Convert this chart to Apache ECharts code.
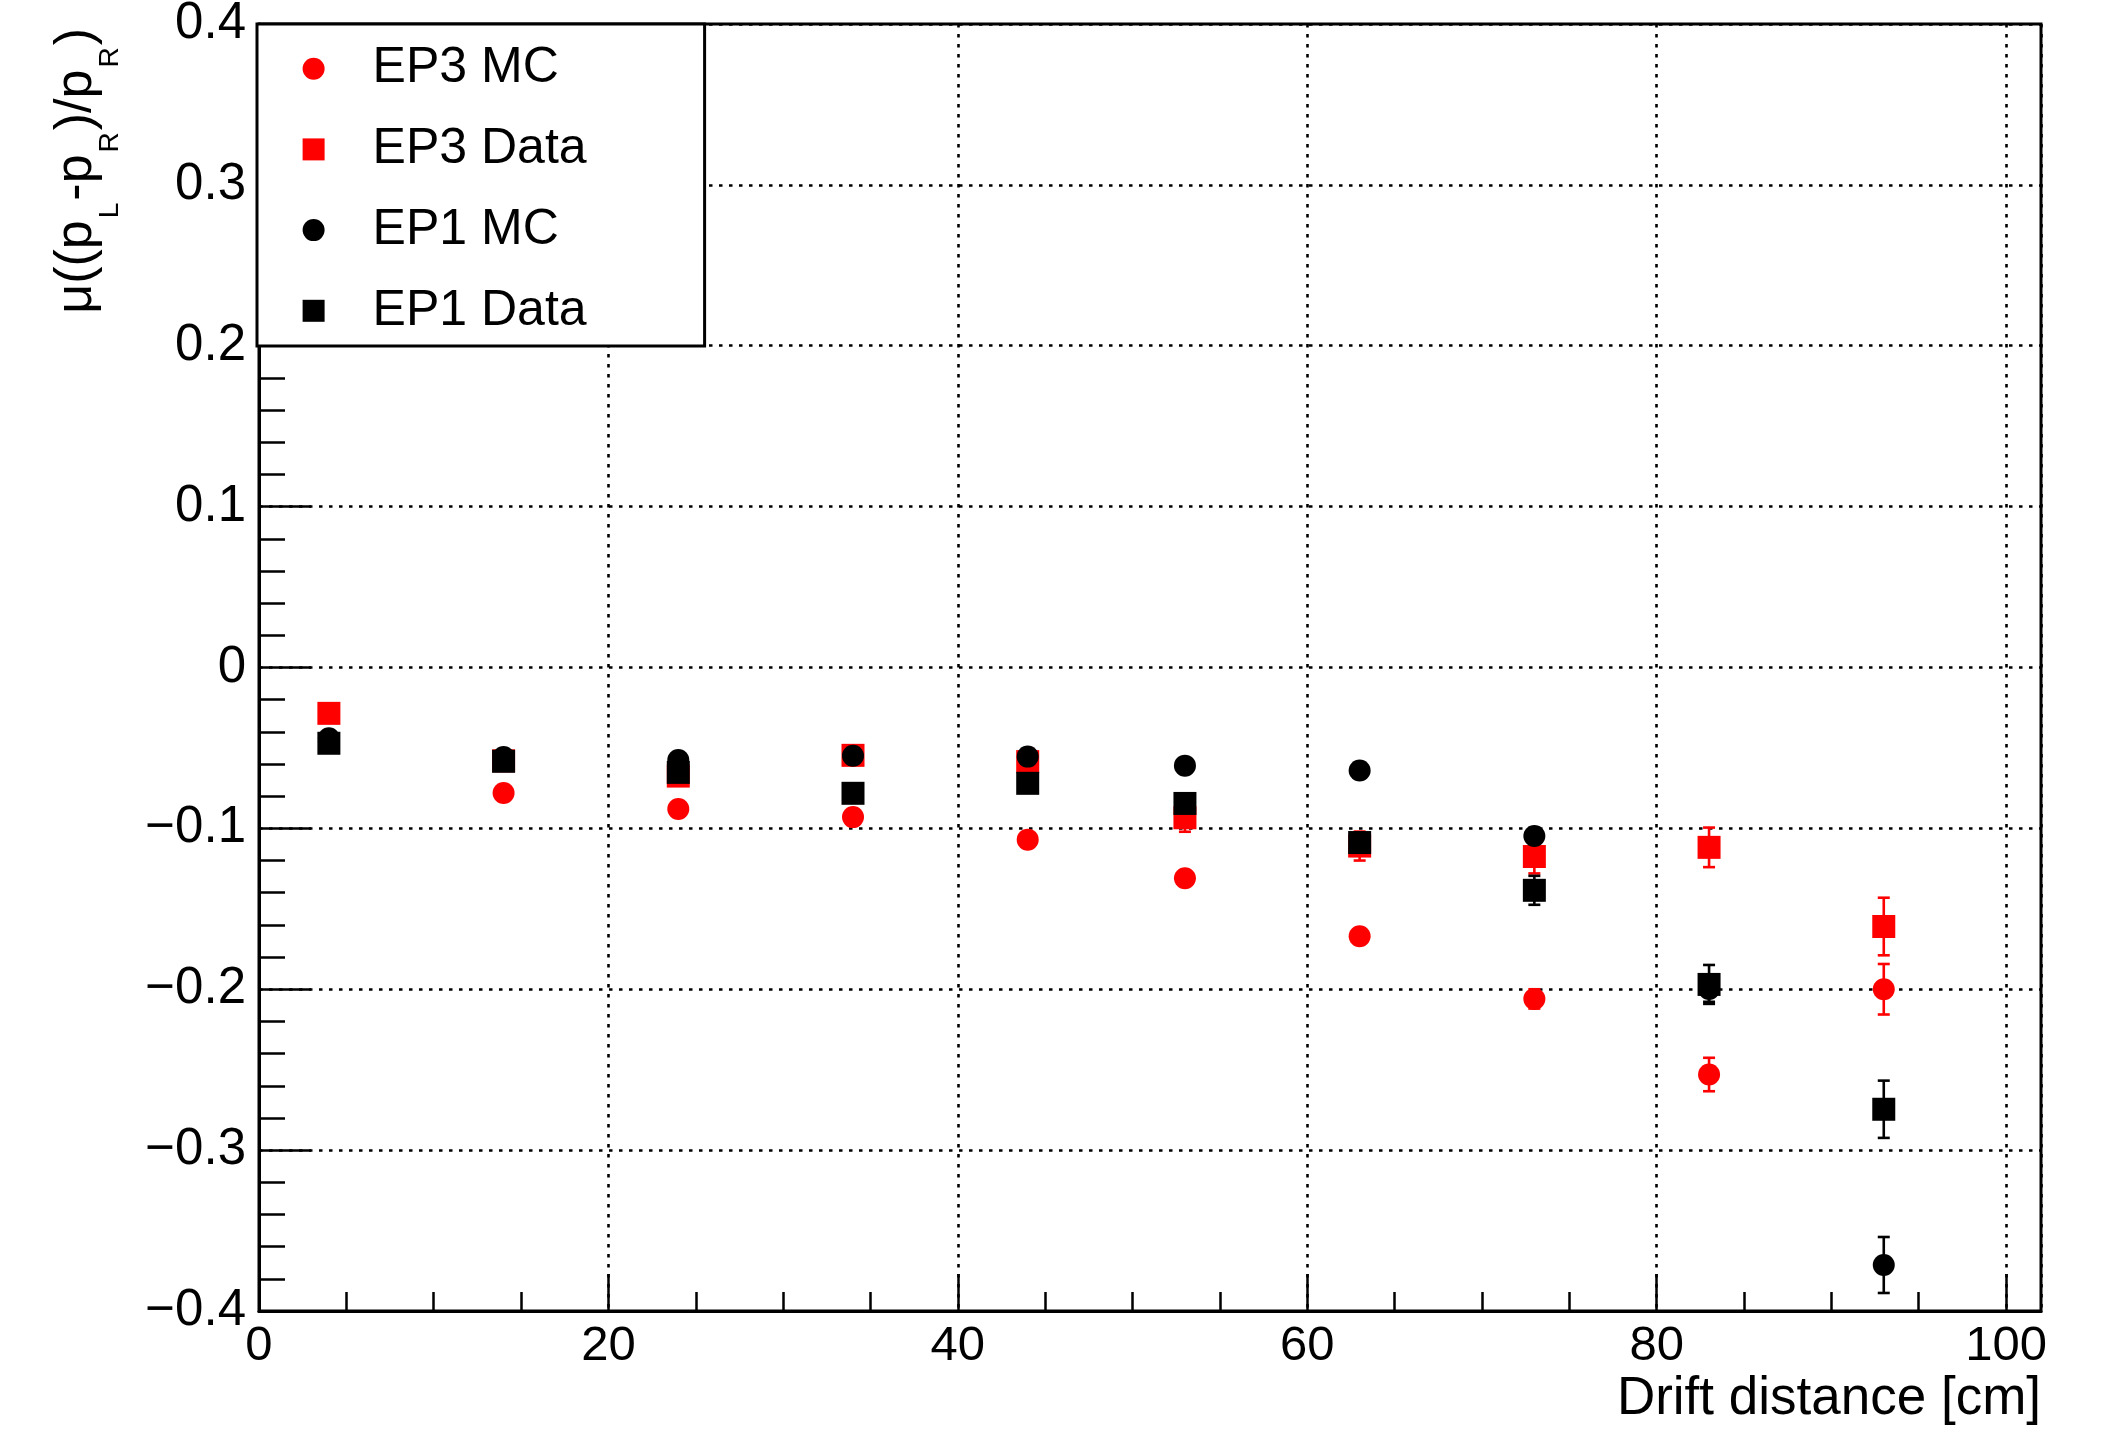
<!DOCTYPE html>
<html>
<head>
<meta charset="utf-8">
<script src="https://cdn.jsdelivr.net/npm/echarts@6/dist/echarts.min.js"></script>
<style>
html,body{margin:0;padding:0;background:#ffffff;}
#chart{width:2102px;height:1441px;}
</style>
</head>
<body>
<div id="chart"></div>
<script>
// ---------------- data ----------------
const driftDistance = [4, 14, 24, 34, 44, 53, 63, 73, 83, 93];

const ep3MC     = [-0.046, -0.078, -0.088, -0.093, -0.107, -0.131, -0.167, -0.206, -0.253, -0.200];
const ep3MCErr  = [0.002, 0.002, 0.002, 0.002, 0.003, 0.003, 0.004, 0.006, 0.0104, 0.0157];

const ep3Data    = [-0.0285, -0.058, -0.0675, -0.0546, -0.0585, -0.0934, -0.111, -0.1175, -0.1118, -0.161];
const ep3DataErr = [0.004, 0.004, 0.005, 0.005, 0.006, 0.0087, 0.009, 0.0105, 0.0123, 0.0179];

const ep1MC     = [-0.044, -0.0556, -0.0575, -0.0548, -0.0554, -0.061, -0.064, -0.1047, -0.1998, -0.3714];
const ep1MCErr  = [0.002, 0.002, 0.002, 0.002, 0.003, 0.003, 0.004, 0.005, 0.008, 0.0174];

const ep1Data    = [-0.0471, -0.0583, -0.0652, -0.0782, -0.072, -0.0845, -0.1088, -0.1385, -0.197, -0.2746];
const ep1DataErr = [0.003, 0.003, 0.004, 0.004, 0.005, 0.006, 0.006, 0.009, 0.0121, 0.0178];

const seriesNames = ['EP3 MC', 'EP3 Data', 'EP1 MC', 'EP1 Data'];
const xAxisTitle = 'Drift distance [cm]';

// axis ranges
const X_MIN = 0, X_MAX = 102, X_TICK_END = 100, X_STEP = 20;
const Y_MIN = -0.4, Y_MAX = 0.4, Y_STEP = 0.1;

// ---------------- layout / style ----------------
const FONT = '"Liberation Sans", Arial, Helvetica, sans-serif';
const W = 2102, H = 1441;
const PL = 259, PR = 2041, PT = 24, PB = 1311;
const RED = '#ff0000', BLACK = '#000000';
const SQUARE = 'path://M0 0H1V1H0Z';

function points(ys, es) {
  return driftDistance.map((x, i) => [x, ys[i], es[i]]);
}

function errorBars(color) {
  return function (params, api) {
    const x = api.value(0), y = api.value(1), e = api.value(2);
    const lo = api.coord([x, y - e]);
    const hi = api.coord([x, y + e]);
    const cap = 6;
    const st = { stroke: color, lineWidth: 2.6 };
    return {
      type: 'group',
      children: [
        { type: 'line', shape: { x1: lo[0], y1: lo[1], x2: hi[0], y2: hi[1] }, style: st },
        { type: 'line', shape: { x1: lo[0] - cap, y1: lo[1], x2: lo[0] + cap, y2: lo[1] }, style: st },
        { type: 'line', shape: { x1: hi[0] - cap, y1: hi[1], x2: hi[0] + cap, y2: hi[1] }, style: st }
      ]
    };
  };
}

function makeSeries(name, ys, es, color, symbol, size) {
  return [
    {
      type: 'custom', name: name, data: points(ys, es),
      encode: { x: 0, y: 1 }, renderItem: errorBars(color), silent: true, z: 2
    },
    {
      type: 'scatter', name: name, data: points(ys, es),
      symbol: symbol, symbolSize: size, itemStyle: { color: color, opacity: 1 },
      emphasis: { disabled: true }, z: 2
    }
  ];
}

const yFmt = v => {
  if (Math.abs(v) < 1e-9) return '0';
  const s = Math.abs(v).toFixed(1);
  return v < 0 ? '\u2212' + s : s;
};

const chart = echarts.init(document.getElementById('chart'), null, { renderer: 'canvas', width: W, height: H });

const option = {
  animation: false,
  backgroundColor: '#ffffff',
  grid: [
    {
      left: PL, right: W - PR, top: PT, bottom: H - PB,
      show: true, borderColor: BLACK, borderWidth: 3, backgroundColor: 'transparent',
      containLabel: false, outerBoundsMode: 'none'
    },
    {
      left: PL, width: (PR - PL) * (X_TICK_END - X_MIN) / (X_MAX - X_MIN), top: PT, bottom: H - PB,
      show: false, containLabel: false, outerBoundsMode: 'none'
    }
  ],
  xAxis: [
    {
      type: 'value', gridIndex: 0, min: X_MIN, max: X_MAX, interval: X_STEP,
      axisLine: { show: true, onZero: false, lineStyle: { color: BLACK, width: 3 } },
      axisTick: { show: false },
      minorTick: { show: false },
      splitLine: { show: true, lineStyle: { color: BLACK, width: 2.6, type: [3.5, 6.5] } },
      axisLabel: {
        show: true, showMaxLabel: false, margin: 11,
        fontSize: 49, fontFamily: FONT, color: BLACK,
        formatter: v => String(v)
      }
    },
    {
      type: 'value', gridIndex: 1, min: X_MIN, max: X_TICK_END, interval: X_STEP,
      axisLine: { show: false, onZero: false },
      axisTick: { show: true, inside: true, length: 37, lineStyle: { color: BLACK, width: 2.5 } },
      minorTick: { show: true, splitNumber: 4, length: 19, lineStyle: { color: BLACK, width: 2.5 } },
      splitLine: { show: false },
      axisLabel: { show: false }
    }
  ],
  yAxis: [
    {
      type: 'value', gridIndex: 0, min: Y_MIN, max: Y_MAX, interval: Y_STEP,
      axisLine: { show: true, onZero: false, lineStyle: { color: BLACK, width: 3 } },
      axisTick: { show: true, inside: true, length: 52, lineStyle: { color: BLACK, width: 2.5 } },
      minorTick: { show: true, splitNumber: 5, length: 26, lineStyle: { color: BLACK, width: 2.5 } },
      splitLine: { show: true, lineStyle: { color: BLACK, width: 2.6, type: [3.5, 6.5] } },
      axisLabel: {
        show: true, margin: 13, fontSize: 51, fontFamily: FONT, color: BLACK,
        padding: [8, 0, 0, 0], formatter: yFmt
      }
    },
    {
      type: 'value', gridIndex: 1, min: Y_MIN, max: Y_MAX, show: false,
      axisLine: { onZero: false }
    }
  ],
  legend: {
    orient: 'vertical', left: 257, top: 24,
    itemWidth: 108, itemHeight: 22, itemGap: 30.7,
    padding: [19.7, 72, 10.3, 45.6],
    backgroundColor: '#ffffff', borderColor: BLACK, borderWidth: 3, borderRadius: 0,
    symbolKeepAspect: true,
    textStyle: { fontSize: 50, fontFamily: FONT, color: BLACK, lineHeight: 50, width: 260 },
    data: [
      { name: seriesNames[0], icon: 'circle', itemStyle: { color: RED } },
      { name: seriesNames[1], icon: SQUARE, itemStyle: { color: RED } },
      { name: seriesNames[2], icon: 'circle', itemStyle: { color: BLACK } },
      { name: seriesNames[3], icon: SQUARE, itemStyle: { color: BLACK } }
    ],
    z: 10
  },
  graphic: [
    {
      type: 'text', x: PR, y: 1373, z: 10,
      style: { text: xAxisTitle, align: 'right', verticalAlign: 'top', fontSize: 53, fontFamily: FONT, fill: BLACK }
    },
    {
      type: 'text', x: 124, y: 28, rotation: Math.PI / 2, z: 10,
      style: {
        text: '{n|\u03bc((p}{s|L}{n|-p}{s|R}{n|)/p}{s|R}{n|)}',
        align: 'right', verticalAlign: 'bottom', fill: BLACK,
        rich: {
          n: { fontSize: 52, lineHeight: 52, fontFamily: FONT, fill: BLACK, verticalAlign: 'bottom', padding: [0, 0, 21, 0] },
          s: { fontSize: 28, lineHeight: 28, fontFamily: FONT, fill: BLACK, verticalAlign: 'bottom', padding: [0, 2, 0, 2] }
        }
      }
    }
  ],
  series: [].concat(
    makeSeries(seriesNames[0], ep3MC, ep3MCErr, RED, 'circle', 22),
    makeSeries(seriesNames[1], ep3Data, ep3DataErr, RED, SQUARE, 23),
    makeSeries(seriesNames[2], ep1MC, ep1MCErr, BLACK, 'circle', 22),
    makeSeries(seriesNames[3], ep1Data, ep1DataErr, BLACK, SQUARE, 23)
  )
};

chart.setOption(option);
</script>
</body>
</html>
